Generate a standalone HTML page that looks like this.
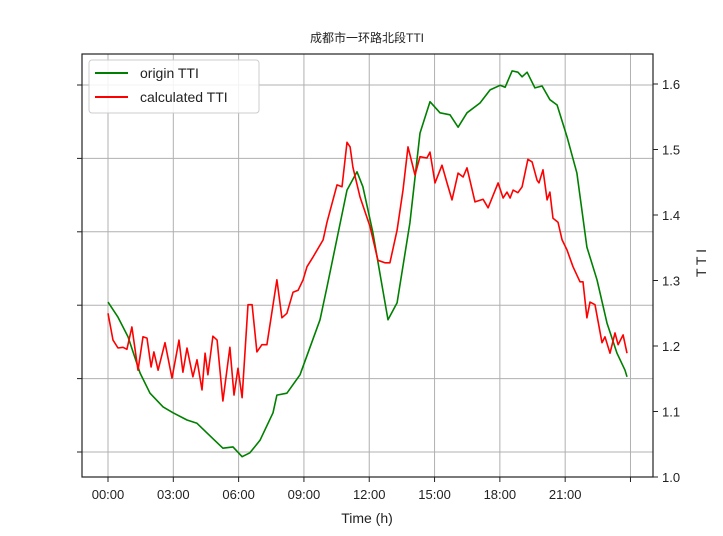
<!DOCTYPE html>
<html><head><meta charset="utf-8"><style>
body{margin:0;background:#fff;}
svg text{font-family:"Liberation Sans","DejaVu Sans","Noto Sans CJK SC",sans-serif;fill:#222;}
</style></head><body>
<svg id="chart" width="723" height="531" xmlns="http://www.w3.org/2000/svg">
<rect width="723" height="531" fill="#fff"/>
<text x="367" y="42" font-size="12" text-anchor="middle">成都市一环路北段TTI</text>
<g id="grid"></g>
<g id="series"></g>
<rect x="82" y="54" width="571" height="423" fill="none" stroke="#222" stroke-width="1.2"/>
<g id="axes"></g>
<text x="367" y="523" font-size="14" text-anchor="middle">Time (h)</text>
<text transform="translate(706,263) rotate(-90)" font-size="14" text-anchor="middle">T T I</text>
<g>
<rect x="89" y="60" width="170" height="53" fill="#fff" fill-opacity="0.85" stroke="#ccc" rx="3"/>
<line x1="95" y1="73" x2="128" y2="73" stroke="#008000" stroke-width="2"/>
<text x="140" y="78" font-size="14">origin TTI</text>
<line x1="95" y1="97" x2="128" y2="97" stroke="#ff0000" stroke-width="2"/>
<text x="140" y="102" font-size="14">calculated TTI</text>
</g>
</svg>
<script>
const xTickHours=[0,3,6,9,12,15,18,21,24];
const xTickLabels=["00:00","03:00","06:00","09:00","12:00","15:00","18:00","21:00",""];
const yTickValues=[1.0,1.1,1.2,1.3,1.4,1.5,1.6];
const leftGridValues=[0,1,2,3,4,5];
const originHours=[0,0.46,0.92,1.47,1.93,2.53,2.99,3.63,4.09,4.55,5.28,5.74,6.16,6.52,6.98,7.58,7.76,8.22,8.82,9.74,10.06,10.98,11.44,11.71,12.17,12.49,12.86,13.28,13.87,14.33,14.79,15.25,15.71,16.08,16.49,17.09,17.55,18.01,18.24,18.56,18.83,19.02,19.25,19.61,19.94,20.30,20.63,21.09,21.54,22.00,22.46,22.92,23.38,23.75,23.84];
const originValues=[1.267,1.244,1.214,1.159,1.128,1.107,1.098,1.087,1.082,1.067,1.044,1.046,1.031,1.037,1.056,1.098,1.125,1.128,1.156,1.240,1.290,1.438,1.466,1.443,1.373,1.311,1.240,1.266,1.388,1.525,1.573,1.556,1.553,1.534,1.556,1.571,1.591,1.598,1.595,1.620,1.618,1.611,1.618,1.594,1.597,1.576,1.568,1.519,1.464,1.351,1.301,1.235,1.189,1.163,1.153];
const calcHours=[0,0.23,0.46,0.69,0.87,1.10,1.38,1.61,1.79,1.98,2.11,2.30,2.62,2.94,3.26,3.44,3.63,3.90,4.09,4.32,4.46,4.59,4.82,5.01,5.28,5.60,5.79,5.97,6.16,6.43,6.62,6.84,7.07,7.30,7.76,7.99,8.22,8.50,8.73,8.96,9.14,9.42,9.88,10.06,10.52,10.75,10.98,11.12,11.25,11.58,12.04,12.40,12.72,12.95,13.28,13.55,13.78,14.10,14.33,14.65,14.79,15.02,15.34,15.57,15.80,16.08,16.31,16.49,16.86,17.23,17.46,17.92,18.15,18.33,18.47,18.61,18.83,19.02,19.29,19.48,19.71,19.80,19.98,20.17,20.30,20.44,20.67,20.86,21.08,21.36,21.68,21.82,22.00,22.14,22.37,22.69,22.83,23.06,23.29,23.43,23.66,23.84];
const calcValues=[1.250,1.209,1.197,1.198,1.195,1.229,1.163,1.214,1.212,1.168,1.191,1.163,1.205,1.151,1.209,1.160,1.197,1.153,1.179,1.133,1.189,1.156,1.215,1.209,1.116,1.198,1.125,1.166,1.121,1.263,1.263,1.191,1.202,1.202,1.301,1.243,1.250,1.282,1.285,1.301,1.321,1.336,1.362,1.389,1.446,1.443,1.511,1.504,1.473,1.427,1.382,1.331,1.327,1.327,1.377,1.438,1.504,1.461,1.489,1.487,1.496,1.449,1.476,1.449,1.423,1.464,1.458,1.472,1.420,1.424,1.411,1.449,1.426,1.435,1.426,1.438,1.434,1.443,1.485,1.481,1.453,1.449,1.469,1.423,1.435,1.395,1.389,1.362,1.347,1.321,1.298,1.298,1.243,1.267,1.263,1.205,1.214,1.189,1.220,1.202,1.217,1.189];

const NS="http://www.w3.org/2000/svg";
const X=h=>108+h*21.77;
const Y=v=>477-(v-1)*655;
const YL=i=>452-i*73.4;
function mk(tag,attrs,parent){const e=document.createElementNS(NS,tag);for(const k in attrs)e.setAttribute(k,attrs[k]);parent.appendChild(e);return e;}
const grid=document.getElementById('grid'),axes=document.getElementById('axes'),series=document.getElementById('series');
xTickHours.forEach((h,i)=>{
  const g=mk('line',{x1:X(h),x2:X(h),y1:54,y2:477,stroke:'#b0b0b0','stroke-width':1},grid);
  
  
  const t=mk('line',{x1:X(h),x2:X(h),y1:477,y2:482,stroke:'#222'},axes);
  
  
  const l=mk('text',{x:X(h),y:499,'font-size':13,'text-anchor':'middle'},axes);
  l.textContent=xTickLabels[i];
  
  
});
leftGridValues.forEach(i=>{
  const g=mk('line',{x1:82,x2:653,y1:YL(i),y2:YL(i),stroke:'#b0b0b0','stroke-width':1},grid);
  
  
  const t=mk('line',{x1:77,x2:82,y1:YL(i),y2:YL(i),stroke:'#222'},axes);
  
  
});
yTickValues.forEach(v=>{
  const t=mk('line',{x1:653,x2:658,y1:Y(v),y2:Y(v),stroke:'#222'},axes);
  
  
  const l=mk('text',{x:662,y:Y(v)+5,'font-size':13},axes);
  l.textContent=v.toFixed(1);
  
  
});
function line(hs,vs,color,name){
  const d=hs.map((h,i)=>(i?'L':'M')+X(h).toFixed(1)+','+Y(vs[i]).toFixed(1)).join('');
  const p=mk('path',{d:d,fill:'none',stroke:color,'stroke-width':1.6,'stroke-linejoin':'round'},series);
  
  
}
line(originHours,originValues,'#008000','origin-tti-line');
line(calcHours,calcValues,'#ff0000','calculated-tti-line');
</script>
</body></html>
